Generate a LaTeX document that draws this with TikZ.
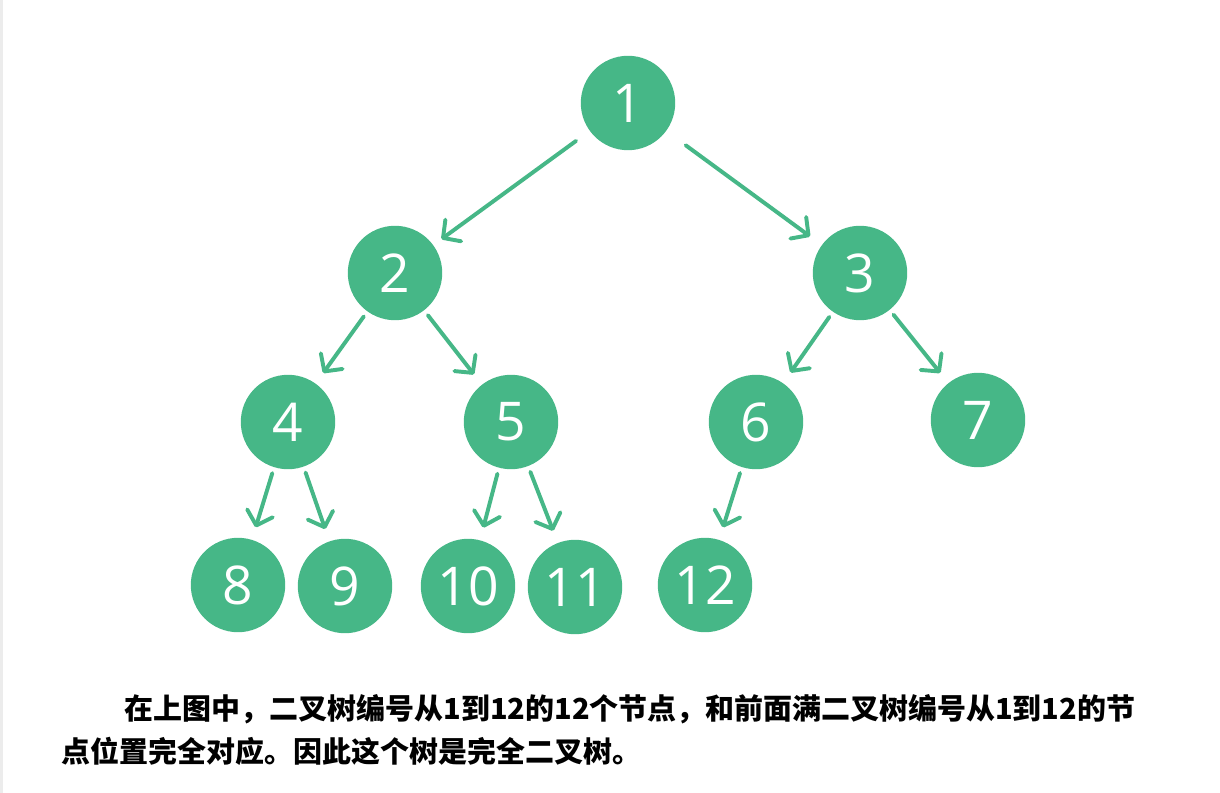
\documentclass[tikz,border=0pt]{standalone}
\usepackage{fontspec}
\newfontfamily\numfont{Open Sans}
\newfontfamily\cjk{Noto Sans CJK SC}
\definecolor{treegreen}{RGB}{70,183,135}
\definecolor{edgegray}{RGB}{236,236,236}
\usepackage{tikz}
\usetikzlibrary{arrows.meta}

\begin{document}
\begin{tikzpicture}[x=0.025cm, y=-0.025cm,
  treenode/.style={circle, fill=treegreen, text=white, inner sep=0pt,
    minimum size=2.36cm, font=\numfont\fontsize{38}{38}\selectfont},
  treeedge/.style={treegreen, line width=2.8pt, line cap=round,
    -{Straight Barb[length=9pt,width=19pt,round]},
    shorten <=0.15cm, shorten >=0.32cm},
  captext/.style={anchor=base west, font=\cjk\bfseries\fontsize{20.6}{30}\selectfont}]
\useasboundingbox (0,0) rectangle (1220,793);

% Page edge
\fill[edgegray] (0,0) rectangle (3,793);

% Nodes
\node[treenode] (n1) at (628,103) {1};
\node[treenode] (n2) at (395,273) {2};
\node[treenode] (n3) at (860,273) {3};
\node[treenode] (n4) at (288,422) {4};
\node[treenode] (n5) at (511,422) {5};
\node[treenode] (n6) at (756,422) {6};
\node[treenode] (n7) at (978,420) {7};
\node[treenode] (n8) at (238,585) {8};
\node[treenode] (n9) at (345,586) {9};
\node[treenode] (n10) at (468,586) {10};
\node[treenode] (n11) at (575,587) {11};
\node[treenode] (n12) at (705,585) {12};

% Edges
\draw[treeedge, shorten <=0.42cm, shorten >=0.25cm] (n1) -- (n2);
\draw[treeedge, shorten <=0.6cm, shorten >=0.36cm] (n1) -- (n3);
\foreach \a/\b in {n2/n4,n2/n5,n3/n6,n3/n7,n4/n8,n4/n9,n5/n10,n5/n11,n6/n12}
  \draw[treeedge] (\a) -- (\b);

% Caption
\node[captext] (cap1) at (120,719) {在上图中，二叉树编号从1到12的12个节点，和前面满二叉树编号从1到12的节};
\node[captext] (cap2) at (57,762) {点位置完全对应。因此这个树是完全二叉树。};

\end{tikzpicture}
\end{document}
